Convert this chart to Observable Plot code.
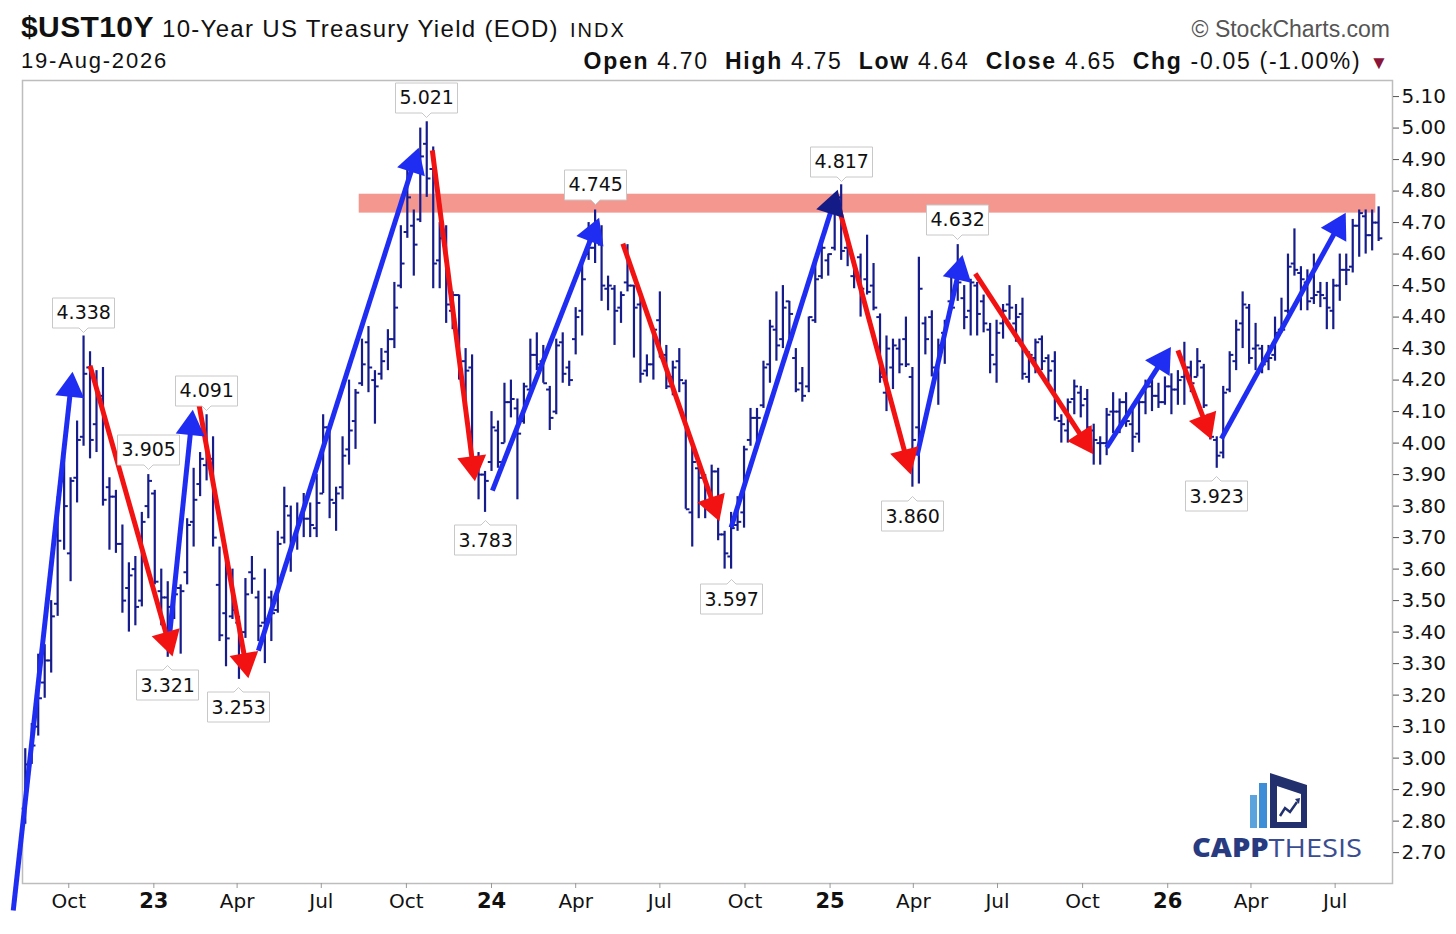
<!DOCTYPE html>
<html><head><meta charset="utf-8">
<script src="https://cdn.jsdelivr.net/npm/d3@7"></script>
<script src="https://cdn.jsdelivr.net/npm/@observablehq/plot@0.6"></script>
<style>
body{margin:0;background:#fff;width:1456px;height:934px;overflow:hidden;font-family:"Liberation Sans",Arial,sans-serif;color:#111}
#hdr{position:relative;height:74px}
#hdr div{position:absolute;white-space:nowrap;line-height:1}
#chart{position:relative;height:860px}
#chart svg{overflow:visible}
#logo{position:absolute;left:1185px;top:765px}
</style></head><body>
<div id="hdr">
  <div style="left:21px;top:12px;font-size:30px;font-weight:bold;letter-spacing:0.4px">$UST10Y</div>
  <div style="left:162px;top:16.7px;font-size:24px;letter-spacing:1.3px">10-Year US Treasury Yield (EOD)</div>
  <div style="left:570px;top:20px;font-size:20px;letter-spacing:2px">INDX</div>
  <div style="left:21px;top:50.4px;font-size:22px;letter-spacing:1.8px">19-Aug-2026</div>
  <div style="right:66px;top:17.5px;font-size:23px;color:#555">© StockCharts.com</div>
  <div style="right:66px;top:49.5px;font-size:23px;letter-spacing:1.7px"><b>Open</b> 4.70&nbsp; <b>High</b> 4.75&nbsp; <b>Low</b> 4.64&nbsp; <b>Close</b> 4.65&nbsp; <b>Chg</b> -0.05 (-1.00%) <span style="color:#8b1538;font-size:19px">▼</span></div>
</div>
<div id="chart"></div>
<svg id="logo" width="185" height="100" viewBox="0 0 185 100">
  <rect x="65" y="30" width="7" height="33" fill="#5ba3dc"/>
  <rect x="74" y="18" width="8" height="45" fill="#3d8ed6"/>
  <path fill-rule="evenodd" fill="#22306e" d="M85,8 L122,20 L122,63 L85,63 Z M92,21 L116,29 L116,57 L92,57 Z"/>
  <polyline points="95,51 100,43 105,47 112,37" fill="none" stroke="#22306e" stroke-width="2.5"/>
  <polygon points="110,34 115,33 114,39" fill="#22306e"/>
  <text x="7" y="92" textLength="170" lengthAdjust="spacingAndGlyphs" font-family="Open Sans, Lato, sans-serif" font-size="26"><tspan font-weight="800" fill="#283a80">CAPP</tspan><tspan font-weight="500" fill="#3b4d92">THESIS</tspan></text>
</svg>
<script>
// ---------- weekly OHLC of $UST10Y, weeks starting Monday 2022-08-15 ----------
const firstWeek = "2022-08-15";
const lastWeek = "2026-08-17";
const opens = [
 2.84,3.00,3.10,3.24,3.31,3.49,3.88,3.65,3.89,4.02,4.24,4.06,4.15,3.86,3.83,3.68,3.54,3.60,3.50,3.80,
 3.84,3.53,3.51,3.48,3.54,3.59,3.75,3.87,3.93,3.95,3.55,3.46,3.45,3.43,3.40,3.59,3.51,3.43,3.51,3.47,3.70,3.77,3.70,3.77,3.76,3.73,3.84,4.05,3.81,3.86,3.98,4.07,4.19,4.32,4.20,4.22,4.29,4.33,4.50,4.67,4.69,4.71,4.95,4.87,4.58,4.63,4.42,4.47,4.26,4.24,3.94,3.90,
 3.94,4.04,4.00,4.13,4.11,4.07,4.17,4.28,4.26,4.17,4.10,4.32,4.24,4.33,4.42,4.60,4.62,4.63,4.49,4.49,4.43,4.51,4.50,4.44,4.23,4.25,4.39,4.28,4.21,4.26,4.19,3.78,3.92,3.89,3.82,3.91,3.71,3.64,3.74,3.78,4.01,4.08,4.12,4.25,4.36,4.33,4.45,4.27,4.19,4.18,4.39,4.53,4.58,
 4.62,4.78,4.62,4.53,4.59,4.52,4.50,4.40,4.16,4.24,4.30,4.33,4.21,4.05,4.38,4.40,4.22,4.35,4.45,4.50,4.46,4.42,4.50,4.45,4.36,4.25,4.38,4.44,4.38,4.41,4.21,4.27,4.33,4.27,4.26,4.07,4.04,4.14,4.16,4.14,4.04,4.00,4.00,4.10,4.10,4.13,4.06,4.03,4.13,4.18,4.15,4.13,
 4.18,4.17,4.21,4.24,4.21,4.24,4.09,4.01,3.97,4.17,4.26,4.38,4.43,4.30,4.30,4.26,4.28,4.36,4.42,4.57,4.54,4.51,4.46,4.48,4.46,4.42,4.50,4.55,4.56,4.69,4.72,4.66,4.70
];
const highs = [
 3.03,3.11,3.33,3.36,3.50,3.83,4.02,3.89,4.07,4.34,4.29,4.23,4.24,3.89,3.85,3.74,3.62,3.64,3.78,3.90,
 3.85,3.60,3.56,3.56,3.55,3.76,3.92,3.97,4.09,4.02,3.67,3.64,3.60,3.45,3.57,3.64,3.53,3.60,3.53,3.72,3.86,3.80,3.81,3.84,3.81,3.90,4.09,4.05,3.86,4.02,4.20,4.17,4.33,4.37,4.23,4.30,4.36,4.51,4.69,4.89,4.74,5.00,5.02,4.94,4.70,4.69,4.48,4.47,4.30,4.28,3.97,3.91,
 4.10,4.07,4.19,4.20,4.14,4.19,4.33,4.35,4.31,4.18,4.33,4.35,4.26,4.43,4.58,4.70,4.74,4.69,4.53,4.50,4.48,4.63,4.50,4.48,4.28,4.36,4.48,4.31,4.26,4.30,4.20,4.00,3.95,3.90,3.93,3.92,3.72,3.78,3.83,3.99,4.11,4.11,4.26,4.39,4.48,4.50,4.45,4.30,4.24,4.40,4.59,4.64,4.60,
 4.79,4.82,4.66,4.58,4.60,4.66,4.57,4.41,4.34,4.33,4.33,4.40,4.24,4.59,4.40,4.42,4.33,4.39,4.55,4.63,4.50,4.52,4.51,4.47,4.38,4.39,4.44,4.50,4.44,4.46,4.29,4.33,4.34,4.28,4.29,4.09,4.14,4.20,4.18,4.17,4.06,4.02,4.11,4.16,4.14,4.16,4.12,4.14,4.20,4.20,4.19,4.21,
 4.22,4.23,4.32,4.26,4.30,4.25,4.09,4.02,4.18,4.29,4.39,4.48,4.44,4.38,4.31,4.31,4.40,4.46,4.60,4.68,4.56,4.55,4.60,4.51,4.51,4.52,4.60,4.60,4.71,4.74,4.74,4.74,4.75
];
const lows = [
 2.79,2.98,3.07,3.19,3.27,3.45,3.66,3.56,3.81,3.99,3.95,3.97,3.80,3.66,3.65,3.46,3.40,3.42,3.48,3.76,
 3.55,3.42,3.32,3.44,3.33,3.55,3.67,3.83,3.88,3.67,3.37,3.29,3.44,3.25,3.38,3.52,3.37,3.30,3.37,3.46,3.68,3.59,3.66,3.70,3.70,3.70,3.84,3.76,3.72,3.82,3.93,3.98,4.18,4.16,4.06,4.20,4.23,4.30,4.49,4.65,4.53,4.70,4.78,4.49,4.49,4.38,4.36,4.20,4.10,3.91,3.82,3.78,
 3.91,3.92,4.00,4.08,3.82,4.06,4.15,4.23,4.19,4.04,4.09,4.19,4.18,4.28,4.34,4.58,4.57,4.45,4.42,4.31,4.38,4.48,4.27,4.19,4.21,4.20,4.27,4.17,4.15,4.16,3.79,3.67,3.76,3.76,3.80,3.69,3.60,3.60,3.72,3.73,3.99,3.98,4.11,4.19,4.26,4.30,4.33,4.16,4.13,4.16,4.38,4.52,4.53,
 4.61,4.58,4.56,4.49,4.40,4.47,4.42,4.19,4.10,4.17,4.22,4.24,3.86,3.87,4.28,4.21,4.12,4.25,4.42,4.45,4.36,4.34,4.34,4.35,4.22,4.19,4.33,4.39,4.32,4.20,4.19,4.22,4.23,4.19,4.07,4.00,4.00,4.09,4.08,4.03,3.93,3.93,3.96,4.03,4.03,4.05,3.97,4.00,4.09,4.10,4.11,4.12,
 4.09,4.12,4.12,4.16,4.21,4.11,4.01,3.92,3.95,4.16,4.23,4.30,4.25,4.23,4.22,4.23,4.26,4.35,4.41,4.53,4.42,4.42,4.44,4.43,4.36,4.36,4.45,4.50,4.54,4.59,4.60,4.61,4.64
];
const closes = [
 2.98,3.04,3.19,3.31,3.45,3.69,3.80,3.88,4.01,4.22,4.01,4.16,3.82,3.83,3.68,3.50,3.58,3.48,3.75,3.88,
 3.56,3.51,3.48,3.52,3.53,3.74,3.82,3.95,3.96,3.70,3.39,3.38,3.47,3.39,3.52,3.57,3.42,3.44,3.46,3.68,3.80,3.69,3.74,3.76,3.74,3.81,4.05,3.82,3.84,3.96,4.04,4.16,4.25,4.24,4.18,4.26,4.33,4.43,4.57,4.78,4.63,4.91,4.84,4.57,4.65,4.44,4.47,4.22,4.23,3.92,3.90,3.88,
 4.05,3.94,4.13,4.14,4.03,4.18,4.28,4.25,4.19,4.08,4.31,4.22,4.20,4.40,4.52,4.62,4.67,4.50,4.50,4.42,4.47,4.50,4.43,4.22,4.25,4.36,4.27,4.18,4.24,4.20,3.79,3.94,3.89,3.80,3.91,3.71,3.65,3.73,3.75,3.98,4.08,4.08,4.24,4.37,4.31,4.43,4.41,4.17,4.15,4.40,4.52,4.62,4.60,
 4.77,4.61,4.62,4.54,4.49,4.48,4.43,4.21,4.30,4.31,4.25,4.25,4.01,4.49,4.33,4.24,4.31,4.38,4.43,4.51,4.40,4.51,4.41,4.38,4.28,4.35,4.42,4.43,4.40,4.22,4.28,4.32,4.26,4.23,4.08,4.06,4.13,4.18,4.12,4.05,4.01,4.00,4.09,4.10,4.13,4.07,4.02,4.13,4.18,4.15,4.13,4.18,
 4.17,4.20,4.24,4.19,4.26,4.12,4.02,3.96,4.16,4.28,4.36,4.44,4.27,4.31,4.25,4.27,4.35,4.36,4.56,4.55,4.52,4.45,4.47,4.47,4.43,4.50,4.55,4.55,4.69,4.73,4.66,4.70,4.65
];

// ---------- hand-drawn trend arrows ----------
const arrowStartDate = ["2022-08-02","2022-10-24","2023-01-17","2023-02-18","2023-04-24","2023-10-29","2024-01-02","2024-05-22","2024-09-16","2025-01-10","2025-04-05","2025-06-07","2025-10-27","2026-01-12","2026-02-28"];
const arrowStartValue = [2.516,4.246,3.363,4.135,3.341,4.929,3.849,4.633,3.732,4.754,3.960,4.538,3.986,4.294,4.014];
const arrowEndDate = ["2022-10-05","2023-01-21","2023-02-12","2023-04-13","2023-10-14","2023-12-14","2024-04-26","2024-09-03","2025-01-09","2025-03-29","2025-05-24","2025-10-12","2026-01-04","2026-02-17","2026-07-12"];
const arrowEndValue = [4.224,3.325,4.103,3.256,4.935,3.881,4.713,3.754,4.802,3.903,4.595,3.967,4.303,4.014,4.729];
const arrowDirection = ["up","down","up","down","up","down","up","down","up","down","up","down","up","down","up"];

// ---------- pivot callouts ----------
const highLabelDates = ["2022-10-17","2022-12-26","2023-02-27","2023-10-23","2024-04-22","2025-01-13","2025-05-19"];
const highLabelValues = [4.338,3.905,4.091,5.021,4.745,4.817,4.632];
const lowLabelDates = ["2023-01-16","2023-04-03","2023-12-25","2024-09-16","2025-03-31","2026-02-23"];
const lowLabelValues = [3.321,3.253,3.783,3.597,3.860,3.923];

// ---------- resistance band ----------
const bandStart = "2023-08-11", bandEnd = "2026-08-14";
const bandLow = 4.73, bandHigh = 4.79;

// ---------- axis ticks ----------
const monthTicks = ["2022-10-01","2023-04-01","2023-07-01","2023-10-01","2024-04-01","2024-07-01","2024-10-01","2025-04-01","2025-07-01","2025-10-01","2026-04-01","2026-07-01"];
const yearTicks = ["2023-01-01","2024-01-01","2025-01-01","2026-01-01"];
const yTicks = [2.70,2.80,2.90,3.00,3.10,3.20,3.30,3.40,3.50,3.60,3.70,3.80,3.90,4.00,4.10,4.20,4.30,4.40,4.50,4.60,4.70,4.80,4.90,5.00,5.10];

// ---------- build ----------
const P = s => new Date(s + "T00:00:00Z");
const dates = d3.utcMonday.range(P(firstWeek), d3.utcDay.offset(P(lastWeek), 1));
const bars = dates.map((d, i) => ({date: d, open: opens[i], high: highs[i], low: lows[i], close: closes[i]}));

const W = 1456, H = 860, mL = 22, mR = 64, mT = 6, mB = 51;
const xDomain = [P("2022-08-12"), P("2026-09-01")];
const yDomain = [2.602, 5.151];
const xs = d3.scaleUtc().domain(xDomain).range([mL, W - mR]);
const ys = d3.scaleLinear().domain(yDomain).range([H - mB, mT]);

const BLUE = "#1f2df2", RED = "#f21212", BAR = "#161c8c";
const HEAD = 16; // px from triangle centroid to tip
const arrows = arrowStartDate.map((s, i) => {
  const x1 = xs(P(s)), y1 = ys(arrowStartValue[i]);
  const x2 = xs(P(arrowEndDate[i])), y2 = ys(arrowEndValue[i]);
  const L = Math.hypot(x2 - x1, y2 - y1), ux = (x2 - x1) / L, uy = (y2 - y1) / L;
  const cx = x2 - ux * HEAD, cy = y2 - uy * HEAD;
  return {
    x1: P(s), y1: arrowStartValue[i],
    hx: xs.invert(cx), hy: ys.invert(cy),
    rot: Math.atan2(ux, -uy) * 180 / Math.PI,
    color: arrowDirection[i] === "up" ? BLUE : RED,
    headColor: arrowDirection[i] === "up" ? (i === 8 ? "#141a86" : BLUE) : RED
  };
});

// callouts sit a few pixels clear of the bar extreme
const highLabels = highLabelDates.map((d, i) => ({date: P(d), value: ys.invert(ys(highLabelValues[i]) - 4), text: highLabelValues[i].toFixed(3)}));
const lowLabels = lowLabelDates.map((d, i) => ({date: P(d), value: ys.invert(ys(lowLabelValues[i]) + 9), text: lowLabelValues[i].toFixed(3)}));

const tipOpts = {x: "date", y: "value", title: "text", fill: "white", stroke: "#c8c8c8", pathFilter: "none",
  fontSize: 19, fontFamily: "DejaVu Sans", textPadding: 4, pointerSize: 9};

const chart = Plot.plot({
  width: W, height: H,
  marginTop: mT, marginBottom: mB, marginLeft: mL, marginRight: mR,
  x: {type: "utc", domain: xDomain, axis: null},
  y: {domain: yDomain, axis: null},
  color: {type: "identity"},
  style: {fontFamily: "DejaVu Sans", fontSize: "20px", color: "#111", background: "white", overflow: "visible"},
  marks: [
    Plot.rect([{a: P(bandStart), b: P(bandEnd), lo: bandLow, hi: bandHigh}], {x1: "a", x2: "b", y1: "lo", y2: "hi", fill: "#f4978e"}),
    Plot.ruleX(bars, {x: "date", y1: "low", y2: "high", stroke: BAR, strokeWidth: 2.2}),
    Plot.link(bars, {x1: d => d3.utcDay.offset(d.date, -4), x2: "date", y1: "open", y2: "open", stroke: BAR, strokeWidth: 2, strokeLinecap: "butt"}),
    Plot.link(bars, {x1: "date", x2: d => d3.utcDay.offset(d.date, 4), y1: "close", y2: "close", stroke: BAR, strokeWidth: 2, strokeLinecap: "butt"}),
    Plot.frame({stroke: "#bdbdbd", strokeWidth: 1.5}),
    Plot.link(arrows, {x1: "x1", y1: "y1", x2: "hx", y2: "hy", stroke: "color", strokeWidth: 5, strokeLinecap: "butt"}),
    Plot.dot(arrows, {x: "hx", y: "hy", rotate: "rot", symbol: "triangle", r: 10.8, fill: "headColor", stroke: null}),
    Plot.tip(highLabels, {...tipOpts, anchor: "bottom"}),
    Plot.tip(lowLabels, {...tipOpts, anchor: "top"}),
    Plot.axisX({ticks: monthTicks.map(P), tickFormat: d3.utcFormat("%b"), tickSize: 5, tickPadding: 5, fontSize: 20, stroke: "#999", fill: "#111"}),
    Plot.axisX({ticks: yearTicks.map(P), tickFormat: d3.utcFormat("%y"), tickSize: 5, tickPadding: 5, fontSize: 21, fontWeight: "bold", stroke: "#999", fill: "#111"}),
    Plot.axisY({anchor: "right", ticks: yTicks, tickFormat: d => d.toFixed(2), tickSize: 6, tickPadding: 3, fontSize: 20, stroke: "#555", fill: "#111"})
  ]
});
document.getElementById("chart").appendChild(chart);
</script>
</body></html>
